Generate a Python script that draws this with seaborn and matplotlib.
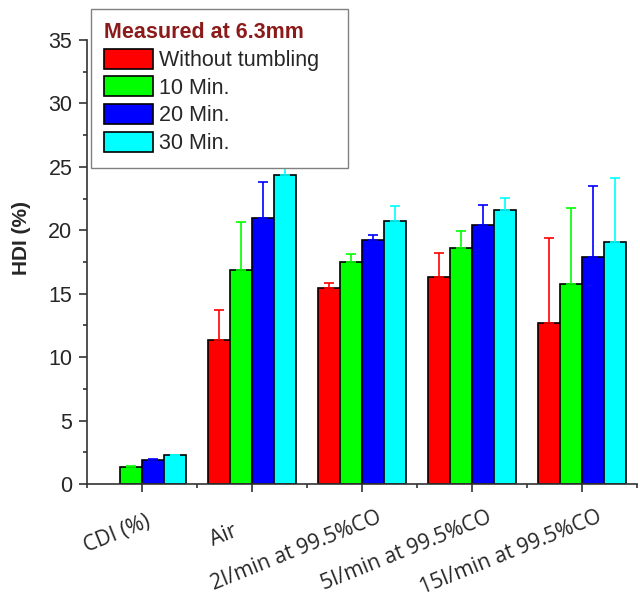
import numpy as np
import pandas as pd
import matplotlib
matplotlib.use("Agg")
import matplotlib.pyplot as plt
import matplotlib.transforms as mtransforms
from matplotlib.ticker import MultipleLocator, FixedLocator
import seaborn as sns

# HDI (%) by atmosphere condition and tumbling time
categories = ["CDI (%)", "Air", "2l/min at 99.5%CO", "5l/min at 99.5%CO", "15l/min at 99.5%CO"]
series = ["Without tumbling", "10 Min.", "20 Min.", "30 Min."]
colors = ["#ff0000", "#00ff00", "#0000ff", "#00ffff"]

hdi_without = [np.nan, 11.35, 15.42, 16.31, 12.71]
hdi_10min = [1.36, 16.84, 17.52, 18.62, 15.73]
hdi_20min = [1.89, 20.94, 19.23, 20.43, 17.89]
hdi_30min = [2.26, 24.38, 20.72, 21.62, 19.05]

err_without = [np.nan, 2.40, 0.40, 1.87, 6.65]
err_10min = [0.05, 3.80, 0.58, 1.29, 6.00]
err_20min = [0.05, 2.85, 0.42, 1.55, 5.60]
err_30min = [0.05, 2.00, 1.16, 0.95, 5.10]

values = [hdi_without, hdi_10min, hdi_20min, hdi_30min]
errors = [err_without, err_10min, err_20min, err_30min]

rows = []
for s, vals, errs in zip(series, values, errors):
    for c, v, e in zip(categories, vals, errs):
        rows.append({"condition": c, "time": s, "HDI": v, "err": e})
df = pd.DataFrame(rows).dropna(subset=["HDI"]).reset_index(drop=True)

sns.set_style("ticks")
plt.rcParams["font.family"] = ["Liberation Sans", "DejaVu Sans"]

fig = plt.figure(figsize=(6.4, 5.98), dpi=100)
ax = fig.add_axes([87 / 640, 1 - 484 / 598, 550 / 640, 444 / 598])

sns.barplot(data=df, x="condition", y="HDI", hue="time",
            order=categories, hue_order=series, palette=colors,
            saturation=1, edgecolor="black", linewidth=1.2,
            errorbar=None, ax=ax)

# upper-only error bars in the colour of each series
for s, col, cont in zip(series, colors, ax.containers):
    sub = df[df["time"] == s].set_index("condition")
    present = [c for c in categories if c in sub.index]
    xs, ys, es = [], [], []
    for bar, c in zip(cont.patches, present):
        xs.append(bar.get_x() + bar.get_width() / 2)
        ys.append(sub.loc[c, "HDI"])
        es.append(sub.loc[c, "err"])
    ax.errorbar(xs, ys, yerr=[np.zeros(len(es)), es], fmt="none",
                ecolor=col, elinewidth=1.2, capsize=3.8, capthick=1.2, zorder=3)

ax.set_xlim(-0.5, 4.5)
ax.set_ylim(0, 35)
ax.yaxis.set_major_locator(MultipleLocator(5))
ax.yaxis.set_minor_locator(MultipleLocator(2.5))
ax.xaxis.set_minor_locator(FixedLocator(np.arange(-0.5, 5, 1.0)))

for side in ["top", "right"]:
    ax.spines[side].set_visible(False)
for side in ["left", "bottom"]:
    ax.spines[side].set_color("#333333")
    ax.spines[side].set_linewidth(1.2)

ax.tick_params(axis="both", which="major", length=5.5, width=1.2, color="#333333")
ax.tick_params(axis="both", which="minor", length=3, width=1.2, color="#333333")
ax.tick_params(axis="y", labelsize=15.5, pad=5)
ax.tick_params(axis="x", pad=11)

ax.set_xlabel("")
ax.set_ylabel("HDI (%)", fontsize=15, fontweight="bold")
ax.yaxis.set_label_coords(-0.102, 0.554)

ax.set_xticks(range(len(categories)))
ax.set_xticklabels(categories, rotation=22, ha="right", va="top",
                   rotation_mode="anchor", fontsize=15.2, family=["Open Sans", "DejaVu Sans"])
# short labels sit further back along the slant
back = {"CDI (%)": 12, "Air": 37}
ang = np.deg2rad(22)
for lbl in ax.get_xticklabels():
    d = back.get(lbl.get_text(), 0)
    dx = (15 - d * np.cos(ang)) / 100
    dy = (-d * np.sin(ang)) / 100
    lbl.set_transform(lbl.get_transform() +
                      mtransforms.ScaledTranslation(dx, dy, fig.dpi_scale_trans))

handles, labels = ax.get_legend_handles_labels()
leg_top = 1 - 9 / 598
leg = ax.legend(handles, labels, title="Measured at 6.3mm",
                loc="upper left", mode="expand",
                bbox_to_anchor=(91 / 640, 0.5, 257 / 640, leg_top - 0.5),
                bbox_transform=fig.transFigure, borderaxespad=0,
                fontsize=15.5, title_fontsize=15.5, alignment="left",
                handlelength=2.25, handleheight=1.05, handletextpad=0.3,
                labelspacing=0.25, borderpad=0.62,
                fancybox=False, framealpha=1, edgecolor="#808080")
leg.get_frame().set_linewidth(1.0)
leg.get_title().set_color("#8b1a1a")
leg.get_title().set_fontweight("bold")
leg.set_zorder(5)

fig.savefig("out.png", dpi=100)
